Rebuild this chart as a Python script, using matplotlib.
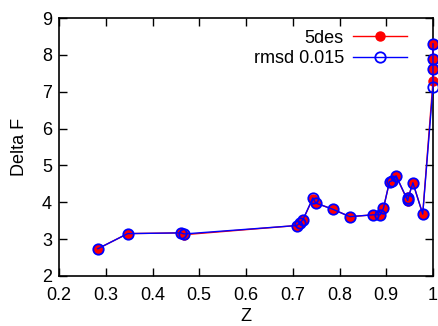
import matplotlib
matplotlib.use("Agg")
import matplotlib.pyplot as plt

plt.rcParams['font.family'] = ['Liberation Sans', 'DejaVu Sans']

z = [0.283, 0.347, 0.461, 0.467, 0.709, 0.716, 0.722, 0.743, 0.749, 0.786, 0.822,
     0.872, 0.887, 0.894, 0.907, 0.912, 0.921, 0.946, 0.947, 0.957, 0.978,
     1.0, 1.0, 1.0, 1.0]
dF_5des = [2.74, 3.15, 3.17, 3.12, 3.37, 3.45, 3.53, 4.10, 3.98, 3.81, 3.61,
           3.66, 3.66, 3.84, 4.56, 4.58, 4.72, 4.03, 4.13, 4.53, 3.68,
           7.29, 7.62, 7.88, 8.30]
dF_rmsd = [2.74, 3.15, 3.17, 3.14, 3.37, 3.45, 3.53, 4.12, 3.98, 3.81, 3.61,
           3.66, 3.66, 3.84, 4.56, 4.58, 4.72, 4.05, 4.12, 4.53, 3.68,
           7.13, 7.62, 7.88, 8.30]

fig = plt.figure(figsize=(4.39, 3.26), dpi=100)
ax = fig.add_axes([59/439, 50/326, 374/439, 258/326])

ax.plot(z, dF_5des, color='red', lw=1.0, marker='o', ms=6.5,
        mfc='red', mec='red', label='5des', clip_on=False, zorder=3)
ax.plot(z, dF_rmsd, color='blue', lw=1.0, marker='o', ms=7.5,
        mfc='none', mec='blue', mew=1.3, label='rmsd 0.015', clip_on=False, zorder=4)

ax.set_xlim(0.2, 1.0)
ax.set_ylim(2, 9)
ax.set_xticks([0.2, 0.3, 0.4, 0.5, 0.6, 0.7, 0.8, 0.9, 1.0])
ax.set_xticklabels(['0.2', '0.3', '0.4', '0.5', '0.6', '0.7', '0.8', '0.9', '1'])
ax.set_yticks(range(2, 10))
ax.tick_params(direction='in', length=6, width=1, top=True, right=True,
               labelsize=13)
ax.tick_params(axis='x', pad=8)
ax.tick_params(axis='y', pad=5)
for s in ax.spines.values():
    s.set_linewidth(1.2)
ax.set_xlabel('Z', fontsize=13, labelpad=3)
ax.set_ylabel('Delta F', fontsize=13, labelpad=10)

leg = ax.legend(loc='upper right', bbox_to_anchor=(0.962, 1.0), frameon=False,
                fontsize=13, markerfirst=False, handlelength=3.0,
                handletextpad=0.5, labelspacing=0.2, borderaxespad=0.25)
for t in leg.get_texts():
    t.set_ha('right')
leg._legend_box.align = 'right'

fig.savefig('out.png', dpi=100)
